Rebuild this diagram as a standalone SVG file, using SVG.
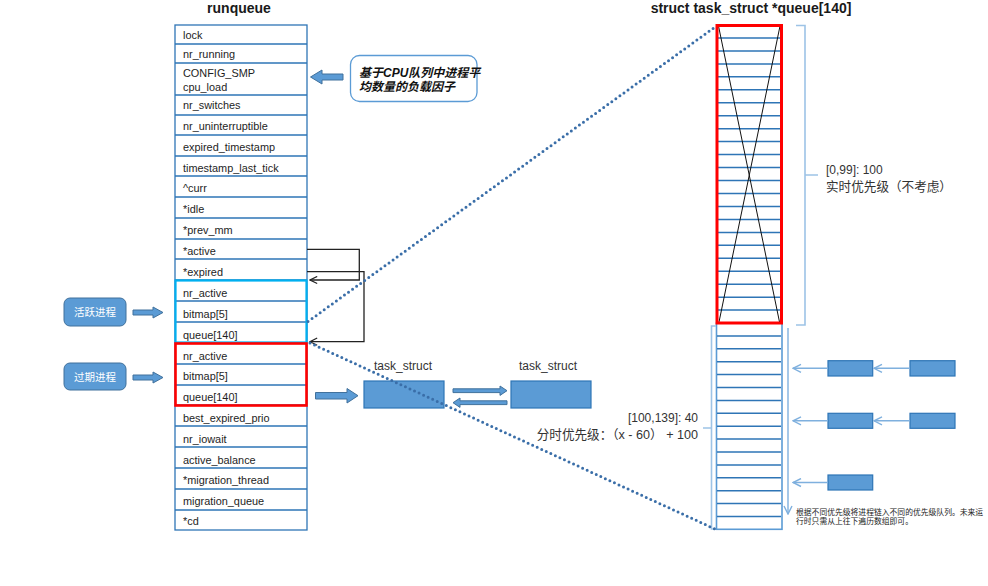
<svg xmlns="http://www.w3.org/2000/svg" width="988" height="586" viewBox="0 0 988 586">
  <style>
    .bg { fill: #ffffff; }
    .title { font-family: "Liberation Sans", Arial, sans-serif; font-weight: bold; font-size: 14px; fill: #1a1a1a; text-anchor: middle; }
    .cell { font-family: "Liberation Sans", Arial, sans-serif; font-size: 10.9px; fill: #1e1e1e; }
    .row { fill: #ffffff; stroke: #2e75b6; stroke-width: 1.3; }
    .lbl { font-family: "Liberation Sans", "Noto Sans CJK SC", sans-serif; font-size: 12px; fill: #333333; }
    .lbl.big { font-size: 12.6px; }
    .cjk { font-family: "Liberation Sans", "Noto Sans CJK SC", sans-serif; }
    .pill { fill: #5b9bd5; stroke: #41719c; stroke-width: 1; }
    .pilltxt { font-family: "Noto Sans CJK SC", sans-serif; font-size: 10.5px; fill: #ffffff; text-anchor: middle; }
    .blk { fill: #5b9bd5; stroke: #41719c; stroke-width: 1; }
    .task { fill: #5b9bd5; stroke: #2e75b6; stroke-width: 1.2; }
    .ptr { fill: none; stroke: #222222; stroke-width: 1.3; }
    .dots { fill: none; stroke: #3a6ea8; stroke-width: 3; stroke-linecap: round; stroke-dasharray: 0 5; }
    .slot { fill: none; stroke: #2e75b6; stroke-width: 1.5; }
    .brace { fill: none; stroke: #9dc3e6; stroke-width: 1.6; }
    .flow { fill: none; stroke: #7fb0de; stroke-width: 1.4; }
  </style>
  <defs>
    <marker id="chev" viewBox="0 0 10 10" refX="9" refY="5" markerWidth="9" markerHeight="9" markerUnits="userSpaceOnUse" orient="auto">
      <path d="M1,1 L9,5 L1,9" fill="none" stroke="#222222" stroke-width="1.3"/>
    </marker>
    <marker id="chevBlue" viewBox="0 0 10 10" refX="9" refY="5" markerWidth="10" markerHeight="10" markerUnits="userSpaceOnUse" orient="auto">
      <path d="M1,1 L9,5 L1,9" fill="none" stroke="#7fb0de" stroke-width="1.4"/>
    </marker>
  </defs>

  <rect class="bg" x="0" y="0" width="988" height="586"/>

  <!-- titles -->
  <text class="title" x="239" y="13">runqueue</text>
  <text class="title" x="751" y="13">struct task_struct *queue[140]</text>

  <!-- runqueue structure -->
  <g id="runqueue">
    <rect class="row" x="175" y="25" width="132" height="505"/>
    <path class="row" d="M175,44H307 M175,63H307 M175,95H307 M175,115H307 M175,135H307 M175,156H307 M175,176H307 M175,197H307 M175,218H307 M175,239H307 M175,259H307 M175,280H307 M175,301H307 M175,322H307 M175,343H307 M175,364H307 M175,385H307 M175,405H307 M175,426H307 M175,447H307 M175,468H307 M175,489H307 M175,510H307"/>
    <g class="cell">
      <text x="183" y="38.5">lock</text>
      <text x="183" y="57.5">nr_running</text>
      <text x="183" y="76.5">CONFIG_SMP</text>
      <text x="183" y="91">cpu_load</text>
      <text x="183" y="109">nr_switches</text>
      <text x="183" y="129.5">nr_uninterruptible</text>
      <text x="183" y="150.5">expired_timestamp</text>
      <text x="183" y="171.5">timestamp_last_tick</text>
      <text x="183" y="192">^curr</text>
      <text x="183" y="213">*idle</text>
      <text x="183" y="234">*prev_mm</text>
      <text x="183" y="254.5">*active</text>
      <text x="183" y="275.5">*expired</text>
      <text x="183" y="296.5">nr_active</text>
      <text x="183" y="317.5">bitmap[5]</text>
      <text x="183" y="338.5">queue[140]</text>
      <text x="183" y="359.5">nr_active</text>
      <text x="183" y="380">bitmap[5]</text>
      <text x="183" y="401">queue[140]</text>
      <text x="183" y="421.5">best_expired_prio</text>
      <text x="183" y="442.5">nr_iowait</text>
      <text x="183" y="463.5">active_balance</text>
      <text x="183" y="484">*migration_thread</text>
      <text x="183" y="505">migration_queue</text>
      <text x="183" y="525">*cd</text>
    </g>
  </g>

  <!-- active / expired priority arrays -->
  <g id="active-array">
    <rect x="175.5" y="280.5" width="131" height="62" fill="none" stroke="#00b0f0" stroke-width="2.2"/>
  </g>
  <g id="expired-array">
    <rect x="175.5" y="343.5" width="131" height="62" fill="none" stroke="#ff0000" stroke-width="2.6"/>
  </g>

  <!-- callout -->
  <g id="cpu-load-note">
    <rect x="350.5" y="55.5" width="126.5" height="46" rx="9" ry="9" fill="#ffffff" stroke="#5b9bd5" stroke-width="1.3"/>
    <text class="cjk" x="359" y="76.5" font-size="12" font-weight="bold" font-style="italic" fill="#111111">基于CPU队列中进程平</text>
    <text class="cjk" x="359" y="91" font-size="12" font-weight="bold" font-style="italic" fill="#111111">均数量的负载因子</text>
  </g>

  <!-- side labels -->
  <g id="active-label">
    <rect class="pill" x="64" y="298" width="62" height="28" rx="6" ry="6"/>
    <text class="pilltxt" x="95" y="316">活跃进程</text>
  </g>
  <g id="expired-label">
    <rect class="pill" x="64" y="363" width="62" height="27" rx="6" ry="6"/>
    <text class="pilltxt" x="95" y="380.5">过期进程</text>
  </g>

  <!-- task_struct list -->
  <g id="task1">
    <text class="lbl" x="403" y="369.5" text-anchor="middle">task_struct</text>
    <rect class="task" x="364" y="381" width="80" height="27"/>
  </g>
  <g id="task2">
    <text class="lbl" x="548" y="369.5" text-anchor="middle">task_struct</text>
    <rect class="task" x="511" y="381" width="80" height="27"/>
  </g>

  <!-- queue[140] slots -->
  <g id="prio-array">
    <rect x="716.5" y="323" width="65.5" height="206.3" fill="#ffffff" stroke="#5b9bd5" stroke-width="1.6"/>
    <path class="slot" d="M717,335.9H781 M717,348.8H781 M717,361.7H781 M717,374.6H781 M717,387.5H781 M717,400.4H781 M717,413.3H781 M717,426.2H781 M717,439.1H781 M717,452H781 M717,464.9H781 M717,477.8H781 M717,490.7H781 M717,503.6H781 M717,516.5H781"/>
    <path class="slot" d="M717,38H781 M717,50.9H781 M717,63.9H781 M717,76.8H781 M717,89.8H781 M717,102.8H781 M717,115.7H781 M717,128.7H781 M717,141.6H781 M717,154.6H781 M717,167.6H781 M717,180.5H781 M717,193.5H781 M717,206.4H781 M717,219.4H781 M717,232.4H781 M717,245.3H781 M717,258.3H781 M717,271.2H781 M717,284.2H781 M717,297.2H781 M717,310.1H781"/>
    <path d="M718.5,26 L779.5,322 M780,26 L719,322" fill="none" stroke="#111111" stroke-width="1"/>
    <rect x="717" y="25.5" width="64.5" height="297.5" fill="none" stroke="#ff0000" stroke-width="3"/>
  </g>

  <!-- range annotations -->
  <g id="realtime-range">
    <path class="brace" d="M796,25.5H805V325H796 M805,175H818"/>
    <text class="lbl" x="826" y="174">[0,99]: 100</text>
    <text class="lbl big" x="826" y="191">实时优先级（不考虑）</text>
  </g>
  <g id="normal-range">
    <path class="brace" d="M716,326H711.5V529H716 M711.5,428H703"/>
    <text class="lbl" x="698" y="422" text-anchor="end">[100,139]: 40</text>
    <text class="lbl big" x="698" y="438.5" text-anchor="end">分时优先级：（x - 60） + 100</text>
  </g>

  <!-- per-priority run lists -->
  <g id="list-a1"><rect class="task" x="828" y="360.7" width="44.7" height="15.3"/></g>
  <g id="list-a2"><rect class="task" x="910" y="360.7" width="45" height="15.3"/></g>
  <g id="list-b1"><rect class="task" x="828" y="413.3" width="44.7" height="15"/></g>
  <g id="list-b2"><rect class="task" x="910" y="413.3" width="45" height="15"/></g>
  <g id="list-c1"><rect class="task" x="828" y="475" width="44.7" height="15"/></g>

  <g id="scan-note">
    <text class="cjk" x="796" y="514.5" font-size="7.8" fill="#222222">根据不同优先级将进程链入不同的优先级队列。未来运</text>
    <text class="cjk" x="796" y="524" font-size="7.8" fill="#222222">行时只需从上往下遍历数组即可。</text>
  </g>

  <!-- connectors -->
  <g id="connectors">
    <!-- block arrows -->
    <polygon class="blk" points="343,74 322,74 322,70 310.5,77 322,84 322,80 343,80"/>
    <polygon class="blk" points="133,310 153,310 153,307 163,312.5 153,318 153,315 133,315"/>
    <polygon class="blk" points="133,375 153,375 153,372 163,377.5 153,383 153,380 133,380"/>
    <polygon class="blk" points="315.5,392.5 347,392.5 347,388.5 358,395.7 347,403 347,399 315.5,399"/>
    <polygon class="blk" points="453,388.8 500,388.8 500,386 507,390.7 500,395.4 500,392.6 453,392.6"/>
    <polygon class="blk" points="507,400.8 460,400.8 460,398 453,402.7 460,407.4 460,404.6 507,404.6"/>

    <!-- active / expired pointers -->
    <path class="ptr" d="M307,249.3H359.3V280H310" marker-end="url(#chev)"/>
    <path class="ptr" d="M307,271.7H364V341.7H310" marker-end="url(#chev)"/>

    <!-- queue[140] to slot array -->
    <path class="dots" d="M308,321.5 L715,27"/>
    <path class="dots" d="M310,343 L715,529"/>

    <!-- run list links -->
    <path class="flow" d="M910,368.3H874" marker-end="url(#chevBlue)"/>
    <path class="flow" d="M828,368.3H793" marker-end="url(#chevBlue)"/>
    <path class="flow" d="M910,420.8H874" marker-end="url(#chevBlue)"/>
    <path class="flow" d="M828,420.8H793" marker-end="url(#chevBlue)"/>
    <path class="flow" d="M828,482.5H793" marker-end="url(#chevBlue)"/>

    <!-- scan direction -->
    <path class="flow" d="M788,328V514" marker-end="url(#chevBlue)"/>
  </g>
</svg>
